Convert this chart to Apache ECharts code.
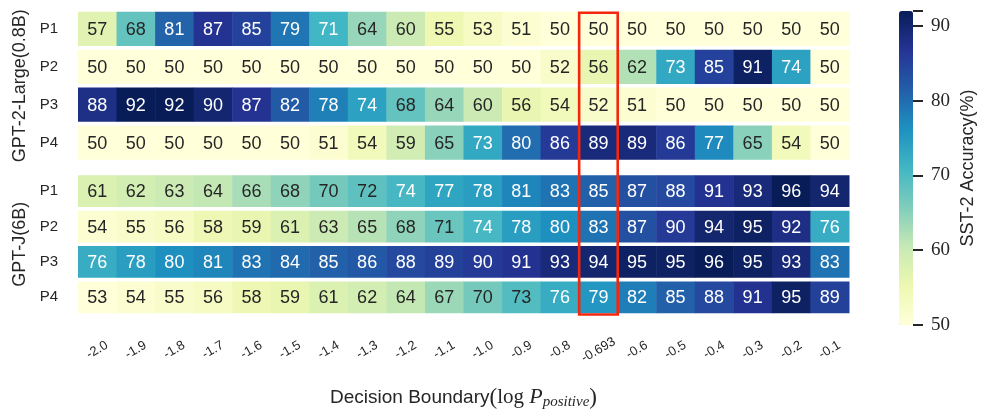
<!DOCTYPE html>
<html>
<head>
<meta charset="utf-8">
<script src="https://cdn.jsdelivr.net/npm/echarts@6/dist/echarts.min.js"></script>
<style>html,body{margin:0;padding:0;background:#fff;}#chart{width:981px;height:411px;}</style>
</head>
<body>
<div id="chart"></div>
<script>
// ---- data ----
const boundaries = ['-2.0','-1.9','-1.8','-1.7','-1.6','-1.5','-1.4','-1.3','-1.2','-1.1','-1.0','-0.9','-0.8','-0.693','-0.6','-0.5','-0.4','-0.3','-0.2','-0.1'];
const prompts = ['P1','P2','P3','P4'];
const gpt2_P1 = [57,68,81,87,85,79,71,64,60,55,53,51,50,50,50,50,50,50,50,50];
const gpt2_P2 = [50,50,50,50,50,50,50,50,50,50,50,50,52,56,62,73,85,91,74,50];
const gpt2_P3 = [88,92,92,90,87,82,78,74,68,64,60,56,54,52,51,50,50,50,50,50];
const gpt2_P4 = [50,50,50,50,50,50,51,54,59,65,73,80,86,89,89,86,77,65,54,50];
const gptj_P1 = [61,62,63,64,66,68,70,72,74,77,78,81,83,85,87,88,91,93,96,94];
const gptj_P2 = [54,55,56,58,59,61,63,65,68,71,74,78,80,83,87,90,94,95,92,76];
const gptj_P3 = [76,78,80,81,83,84,85,86,88,89,90,91,93,94,95,95,96,95,93,83];
const gptj_P4 = [53,54,55,56,58,59,61,62,64,67,70,73,76,79,82,85,88,91,95,89];
const highlightBoundary = '-0.693';
const colorbarTicks = [50,60,70,80,90];

const YlGnBu = ['#ffffd9','#edf8b1','#c7e9b4','#7fcdbb','#41b6c4','#1d91c0','#225ea8','#253494','#081d58'];

function toCells(rows){
  const out = [];
  rows.forEach((r, ri) => r.forEach((v, ci) => out.push([ci, ri, v])));
  return out;
}
const gpt2Cells = toCells([gpt2_P1,gpt2_P2,gpt2_P3,gpt2_P4]);
const gptjCells = toCells([gptj_P1,gptj_P2,gptj_P3,gptj_P4]);
const allVals = (a) => a.map(d => d[2]);
const gpt2Min = Math.min(...allVals(gpt2Cells)), gpt2Max = Math.max(...allVals(gpt2Cells));
const gptjMin = Math.min(...allVals(gptjCells)), gptjMax = Math.max(...allVals(gptjCells));

function parseColor(c){
  let m = /rgba?\(([^)]+)\)/.exec(c);
  if (m) { const p = m[1].split(',').map(Number); return [p[0],p[1],p[2]]; }
  c = c.replace('#','');
  if (c.length === 3) c = c.split('').map(x=>x+x).join('');
  return [parseInt(c.slice(0,2),16), parseInt(c.slice(2,4),16), parseInt(c.slice(4,6),16)];
}
function luminance(c){
  const rgb = parseColor(c).map(v => { v/=255; return v <= 0.03928 ? v/12.92 : Math.pow((v+0.055)/1.055, 2.4); });
  return 0.2126*rgb[0] + 0.7152*rgb[1] + 0.0722*rgb[2];
}
const GAP = 3.6;
function renderCell(params, api){
  const c = api.coord([api.value(0), api.value(1)]);
  const s = api.size([1,1]);
  const color = api.visual('color');
  const v = api.value(2);
  return {
    type: 'group',
    children: [
      { type:'rect', shape:{ x:c[0]-s[0]/2, y:c[1]-s[1]/2+GAP/2, width:s[0]+0.5, height:s[1]-GAP }, style:{ fill:color } },
      { type:'text', style:{ text:String(v), x:c[0], y:c[1]+1, align:'center', verticalAlign:'middle',
        fill: luminance(color) > 0.408 ? '#262626' : '#ffffff', font:'18px "Liberation Sans", sans-serif' } }
    ]
  };
}

const sansFont = '"Liberation Sans", sans-serif';
const serifFont = '"Liberation Serif", "DejaVu Serif", serif';

const chart = echarts.init(document.getElementById('chart'), null, {renderer:'canvas'});
const option = {
  backgroundColor: '#ffffff',
  animation: false,
  grid: [
    { left: 78, top: 10, width: 771, height: 151.5 },
    { left: 78, top: 173.5, width: 771, height: 152.5 },
    { left: 899, top: 11, width: 14, height: 314 }
  ],
  xAxis: [
    { type:'category', gridIndex:0, data: boundaries, show:false },
    { type:'category', gridIndex:1, data: boundaries,
      axisLine:{show:false}, axisTick:{show:false}, splitLine:{show:false},
      axisLabel:{ interval:0, rotate:30, margin:35, align:'center', verticalAlign:'middle',
        color:'#262626', fontFamily: sansFont, fontSize:13 },
      name: '{a|Decision Boundary}{p|(}{b|log }{c|P}{d|positive}{p|)}',
      nameLocation:'middle', nameGap: 70,
      nameTextStyle: { rich: {
        a: { fontFamily: sansFont, fontSize: 19, color:'#262626' },
        p: { fontFamily: serifFont, fontSize: 23, color:'#262626' },
        b: { fontFamily: serifFont, fontSize: 21, color:'#262626' },
        c: { fontFamily: serifFont, fontSize: 22, fontStyle:'italic', color:'#262626' },
        d: { fontFamily: serifFont, fontSize: 15, fontStyle:'italic', color:'#262626', padding:[10,0,0,0] }
      } }
    },
    { type:'value', gridIndex:2, show:false, min:0, max:1 }
  ],
  yAxis: [
    { type:'category', gridIndex:0, data: prompts, inverse:true,
      axisLine:{show:false}, axisTick:{show:false}, splitLine:{show:false},
      axisLabel:{ margin:20, color:'#262626', fontFamily:sansFont, fontSize:15 },
      name:'GPT-2-Large(0.8B)', nameLocation:'middle', nameGap:47, nameRotate:90,
      nameTextStyle:{ fontFamily:sansFont, fontSize:18, color:'#262626' } },
    { type:'category', gridIndex:1, data: prompts, inverse:true,
      axisLine:{show:false}, axisTick:{show:false}, splitLine:{show:false},
      axisLabel:{ margin:20, color:'#262626', fontFamily:sansFont, fontSize:15 },
      name:'GPT-J(6B)', nameLocation:'middle', nameGap:47, nameRotate:90,
      nameTextStyle:{ fontFamily:sansFont, fontSize:18, color:'#262626' } },
    { type:'value', gridIndex:2, position:'right', min:gpt2Min, max:gpt2Max, interval:10,
      axisLine:{show:true, onZero:false, lineStyle:{color:'rgba(0,0,0,0)'}}, splitLine:{show:false},
      axisTick:{show:true, length:10, lineStyle:{color:'#262626', width:2}},
      axisLabel:{ margin:18, color:'#262626', fontFamily:serifFont, fontSize:19,
        formatter: v => colorbarTicks.includes(v) ? String(v) : '' },
      name:'SST-2 Accuracy(%)', nameLocation:'middle', nameGap:46, nameRotate:90,
      nameTextStyle:{ fontFamily:sansFont, fontSize:18, color:'#262626' } }
  ],
  visualMap: [
    { type:'continuous', seriesIndex:0, dimension:2, min:gpt2Min, max:gpt2Max,
      inRange:{ color: YlGnBu }, calculable:false, show:true, text:null, showLabel:false,
      left:899, top:11, itemWidth:14, itemHeight:314, padding:0 },
    { type:'continuous', seriesIndex:1, dimension:2, min:gptjMin, max:gptjMax,
      inRange:{ color: YlGnBu }, show:false }
  ],
  series: [
    { type:'custom', xAxisIndex:0, yAxisIndex:0, renderItem: renderCell, data: gpt2Cells, encode:{x:0,y:1} },
    { type:'custom', xAxisIndex:1, yAxisIndex:1, renderItem: renderCell, data: gptjCells, encode:{x:0,y:1} }
  ]
};
chart.setOption(option);

// red highlight box around the highlighted boundary column, spanning both heatmaps
const hi = boundaries.indexOf(highlightBoundary);
const cTop = chart.convertToPixel({gridIndex:0}, [hi, 0]);
const cNext = chart.convertToPixel({gridIndex:0}, [hi+1, 1]);
const cBot = chart.convertToPixel({gridIndex:1}, [hi, prompts.length-1]);
const bw = cNext[0] - cTop[0];
const bh = cNext[1] - cTop[1];
chart.setOption({
  graphic: [{
    type:'rect', z:100,
    shape:{ x: cTop[0]-bw/2, y: cTop[1]-bh/2+GAP/2+1, width: bw, height: (cBot[1]+bh/2-GAP/2) - (cTop[1]-bh/2+GAP/2+1) },
    style:{ fill:'none', stroke:'#f5260e', lineWidth:2.6 }
  }]
});
</script>
</body>
</html>
